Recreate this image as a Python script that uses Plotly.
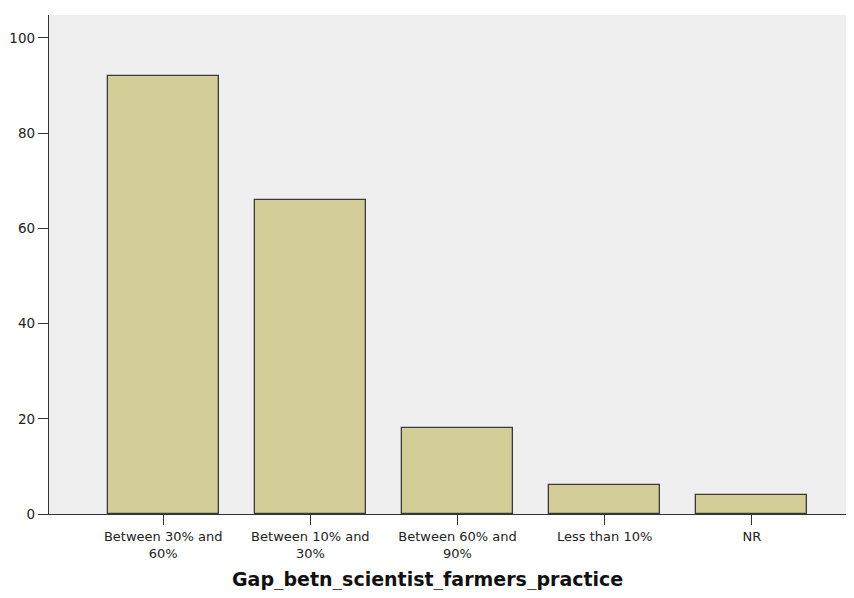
import plotly.graph_objects as go

categories = ["Between 30% and<br>60%", "Between 10% and<br>30%", "Between 60% and<br>90%", "Less than 10%", "NR"]
counts = [92, 66, 18, 6, 4]
y_ticks = [0, 20, 40, 60, 80, 100]
x_title = "Gap_betn_scientist_farmers_practice"

fig = go.Figure(go.Bar(
    x=list(range(len(categories))),
    y=counts,
    width=0.755,
    marker=dict(color="#D3CE97", line=dict(color="#3a3a3a", width=1.3)),
))

# page body has an 8px default margin; size the figure so the page does not overflow
fig.update_layout(
    width=846, height=582,
    margin=dict(l=41, r=0, t=7, b=76),
    paper_bgcolor="white",
    plot_bgcolor="#EFEFEF",
    showlegend=False,
    font=dict(family="DejaVu Sans, Verdana, sans-serif", color="#222"),
    bargap=0,
    annotations=[dict(
        text="<b>" + x_title + "</b>", xref="paper", yref="paper",
        x=0.470, y=-0.132, xanchor="center", yanchor="middle", showarrow=False,
        font=dict(size=19, color="#111", family="DejaVu Sans, Verdana, sans-serif"),
    )],
)
fig.update_xaxes(
    tickmode="array", tickvals=list(range(len(categories))), ticktext=categories,
    range=[-0.776, 4.694], showgrid=False, zeroline=False,
    showline=True, linecolor="#333", linewidth=1.3,
    ticks="outside", ticklen=10, tickcolor="#333", tickwidth=1.3,
    tickfont=dict(size=13, color="#222"), automargin=False,
)
fig.update_yaxes(
    tickmode="array", tickvals=y_ticks, range=[0, 104.8],
    showgrid=False, zeroline=False,
    showline=True, linecolor="#333", linewidth=1.3,
    ticks="outside", ticklen=10, tickcolor="#333", tickwidth=1.3,
    tickfont=dict(size=13.5, color="#222"), automargin=False,
)

fig.write_html("out.html")
